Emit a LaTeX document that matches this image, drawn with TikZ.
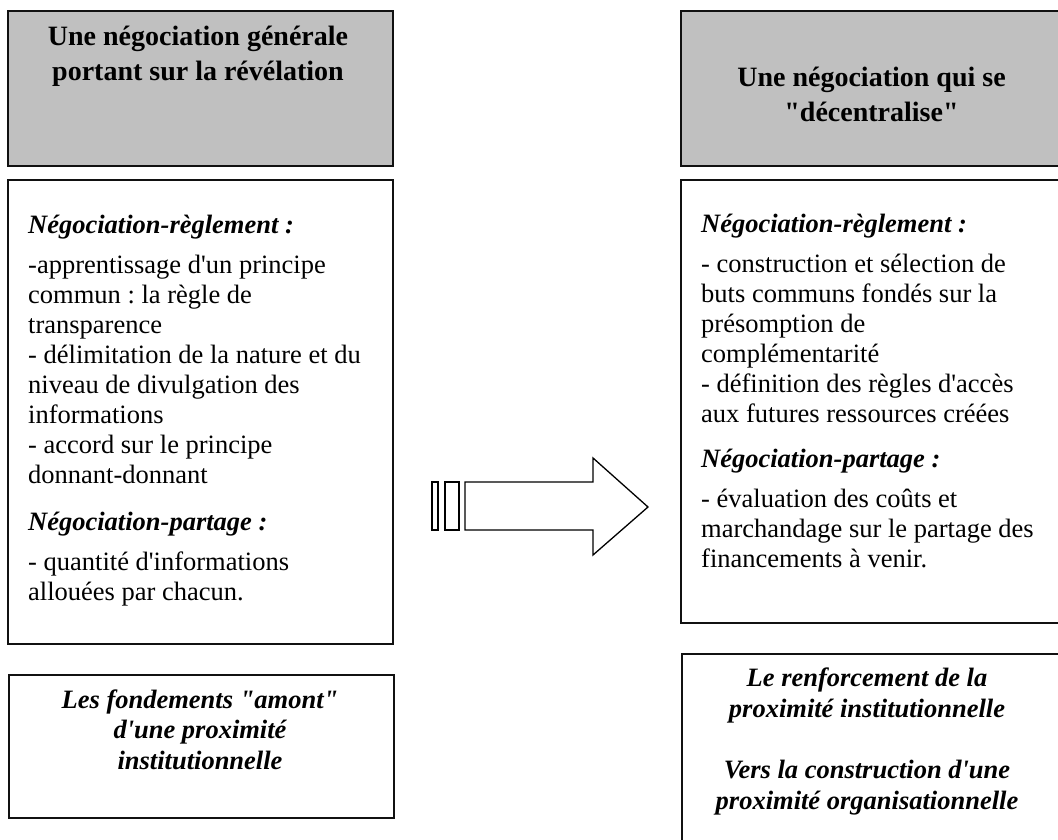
\documentclass[tikz,border=0pt]{standalone}
\usepackage{fontspec}
\setmainfont{Liberation Serif}[Ligatures=TeXOff]
\frenchspacing
\definecolor{boxgray}{HTML}{C0C0C0}
\definecolor{rule}{HTML}{111111}
\newcommand{\hd}[1]{{\bfseries\itshape #1}}
\begin{document}
\begin{tikzpicture}[x=1pt,y=-1pt,
  box/.style={draw=rule, line width=1.8pt, rectangle, inner sep=0pt, anchor=north west, minimum width=385pt},
  titlebox/.style={box, fill=boxgray},
  % multi-line nodes: the base anchor sits on the last line
  titletext/.style={font=\fontsize{28}{35}\selectfont\bfseries, align=center, anchor=base, inner sep=0pt},
  bodytext/.style={font=\fontsize{26.5}{30}\selectfont, align=left, anchor=base west, inner sep=0pt},
  notetext/.style={font=\fontsize{26.5}{30.5}\selectfont\bfseries\itshape, align=center, anchor=base, inner sep=0pt},
  outline/.style={draw=black, line width=1.3pt, fill=white, line join=miter}]
\useasboundingbox (0,0) rectangle (1058,840);
\clip (0,0) rectangle (1058,840);

% left column
\node[titlebox, minimum height=155pt] (lhead) at (7,10) {};
\node[box, minimum height=464pt] (lbody) at (7,179) {};
\node[box, minimum height=143pt] (lnote) at (8,674) {};

% right column
\node[titlebox, minimum height=155pt] (rhead) at (680,10) {};
\node[box, minimum height=443pt] (rbody) at (680,179) {};
\node[box, minimum height=220pt] (rnote) at (681,653) {};

% titles
\node[titletext] (lheadtxt) at (198,81) {Une négociation générale\\portant sur la révélation};
\node[titletext] (rheadtxt) at (871.5,122) {Une négociation qui se\\"décentralise"};

% body texts
\node[bodytext] (lbodytxt) at (28,600) {\hd{Négociation-règlement :}\\[10pt]
-apprentissage d'un principe\\
commun : la règle de\\
transparence\\
- délimitation de la nature et du\\
niveau de divulgation des\\
informations\\
- accord sur le principe\\
donnant-donnant\\[17pt]
\hd{Négociation-partage :}\\[10pt]
- quantité d'informations\\
allouées par chacun.};

\node[bodytext] (rbodytxt) at (701,567) {\hd{Négociation-règlement :}\\[10pt]
- construction et sélection de\\
buts communs fondés sur la\\
présomption de\\
complémentarité\\
- définition des règles d'accès\\
aux futures ressources créées\\[15pt]
\hd{Négociation-partage :}\\[10pt]
- évaluation des coûts et\\
marchandage sur le partage des\\
financements à venir.};

% conclusions
\node[notetext] (lnotetxt) at (200,769) {Les fondements "amont"\\d'une proximité\\institutionnelle};
\node[notetext] (rnotetxt) at (867,809) {Le renforcement de la\\proximité institutionnelle\\[31pt]Vers la construction d'une\\proximité organisationnelle};

% striped block arrow between the columns
\draw[outline] (432,482) rectangle (438,530);
\draw[outline] (445,482) rectangle (459,530);
\draw[outline] (465,482) -- (593,482) -- (593,458) -- (648,507) -- (593,555)
  -- (593,530) -- (465,530) -- cycle;
\end{tikzpicture}
\end{document}
